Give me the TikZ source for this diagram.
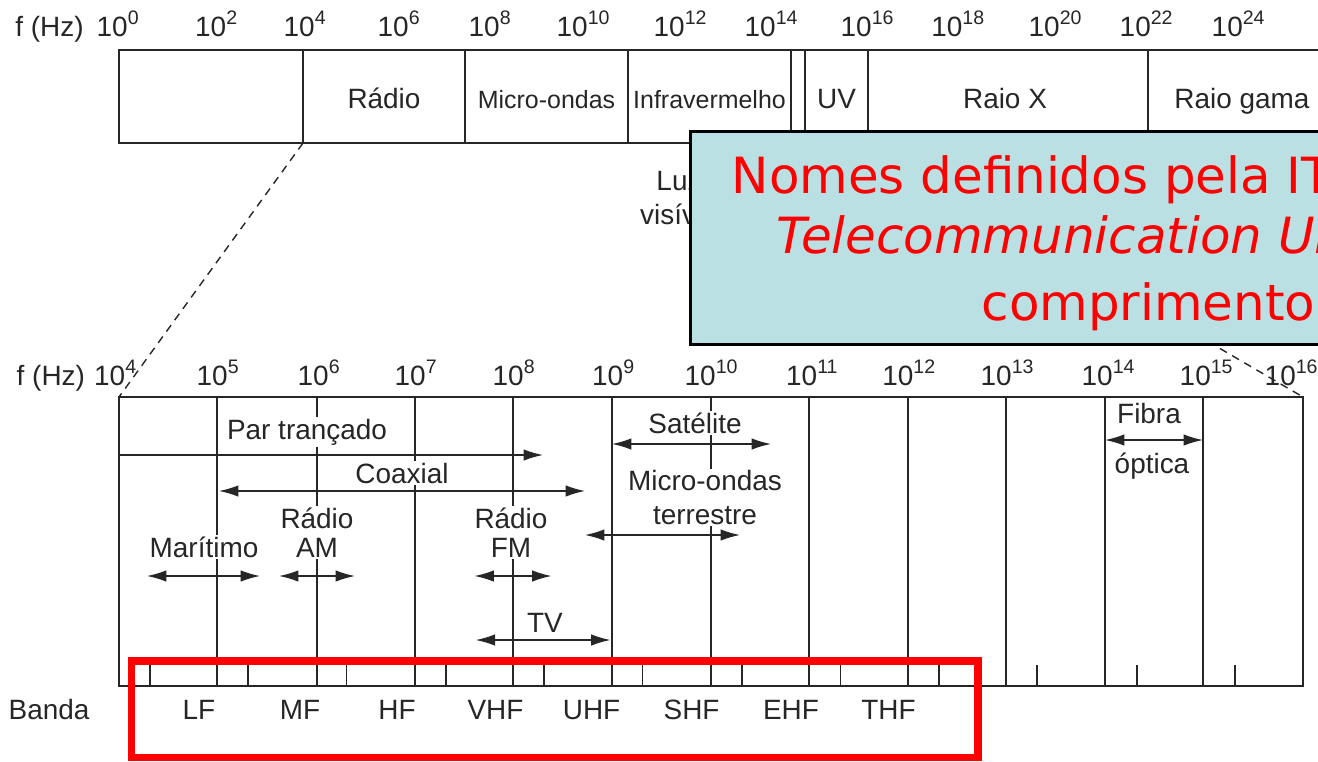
\documentclass[tikz,border=0pt]{standalone}
\usepackage{fontspec}
\setmainfont{Liberation Sans}
\newfontfamily\notefont{DejaVu Sans}
\usetikzlibrary{arrows.meta}
\tikzset{>={Latex[length=11pt,width=6.5pt]}}
\definecolor{ink}{gray}{0.15}
\definecolor{notebg}{RGB}{186,224,227}
\definecolor{notered}{RGB}{255,0,0}
\newcommand{\lblsize}{\fontsize{15.9}{16.5}\selectfont}
\tikzset{lbl/.style={inner sep=0pt, text=ink, font=\lblsize}}
\tikzset{gap/.style={lbl, fill=white, inner sep=1pt, align=center}}
\tikzset{notetext/.style={inner sep=0pt, text=notered, font=\notefont\fontsize{28.4}{30}\selectfont}}

\begin{document}
\begin{tikzpicture}[x=0.02cm, y=-0.02cm, line width=0.8pt, color=ink]
		\useasboundingbox (0,0) rectangle (1318,761);
		\clip (0,0) rectangle (1318,761);

		% Top bar
		\draw (1340,50) -- (119,50) -- (119,143) -- (1340,143);
		\foreach \x in {303,465,628,791,805,868,1148}
			\draw (\x,50) -- (\x,143);
		\node[lbl, anchor=base west] (tf) at (14.7,36) {f (Hz)};
		\foreach \x/\e in {96/0,194.5/2,283/4,377/6,468/8,556/10,653/12,744/14,840/16,930.6/18,1028/20,1119/22,1211/24}
			\node[lbl, anchor=base west] (t\e) at (\x,36) {10\textsuperscript{\e}};
		\node[lbl, anchor=base] (radio) at (384,108) {Rádio};
		\node[lbl, anchor=base, font=\fontsize{14.2}{17}\selectfont] (micro) at (546.5,108) {Micro-ondas};
		\node[lbl, anchor=base, font=\fontsize{14.2}{17}\selectfont] (infra) at (709.5,108) {Infravermelho};
		\node[lbl, anchor=base] (uv) at (836.5,108) {UV};
		\node[lbl, anchor=base] (raiox) at (1005,108) {Raio X};
		\node[lbl, anchor=base] (gama) at (1242,108) {Raio gama};
		\node[lbl, anchor=base, align=center] (luz) at (679,224) {Luz\\[2.5pt]visível};

		% Zoom
		\coordinate (zl) at (303,143);
		\coordinate (zr) at (868,143);
		\coordinate (sl) at (119,397);
		\coordinate (sr) at (1303,397);
		\draw[dash pattern=on 4.5pt off 3.5pt] (zl) -- (sl);
		\draw[dash pattern=on 4.5pt off 3.5pt] (zr) -- (sr);

		% Scale
		\draw (sl) rectangle (1303,686);
		\foreach \x in {217,317,415,513,612,711,809,908,1006,1105,1203}
			\draw (\x,397) -- (\x,686);
		\foreach \x in {150,248,346.5,446,544,642.6,742,840.5,939,1037,1137,1235}
			\draw (\x,665) -- (\x,686);
		\node[lbl, anchor=base west] (bf) at (16,385) {f (Hz)};
		\foreach \x/\e in {93.5/4,196/5,297/6,394/7,492/8,591.5/9,684/10,785.5/11,881.7/12,980/13,1081/14,1179/15,1264/16}
			\node[lbl, anchor=base west] (b\e) at (\x,385) {10\textsuperscript{\e}};

		% Media
		\node[gap, anchor=base] (par) at (307,439) {Par trançado};
		\node[gap, anchor=base] (coax) at (402,483) {Coaxial};
		\node[gap, anchor=base] (sat) at (695,433) {Satélite};
		\node[gap, anchor=base] (mot) at (705,524) {Micro-ondas\\[2.5pt]terrestre};
		\node[gap, anchor=base] (fibra) at (1149,423) {Fibra};
		\node[gap, anchor=base] (optica) at (1152,473) {óptica};
		\node[gap, anchor=base] (marit) at (204,557) {Marítimo};
		\node[gap, anchor=base] (am) at (317,557) {Rádio\\AM};
		\node[gap, anchor=base] (fm) at (511,557) {Rádio\\FM};
		\node[gap, anchor=base] (tv) at (545,632) {TV};
		\coordinate (parL) at (119,455);
		\coordinate (parR) at (543,455);
		\draw[->] (parL) -- (parR);
		\foreach \n/\xa/\xb/\y in {coax/219/585/491,sat/612/771/444,mot/585/740/535,fib/1105/1203/440,mar/147/260/576,am/279/355/576,fm/474.5/551.5/576,tv/475.7/610.5/640}{
			\coordinate (\n L) at (\xa,\y);
			\coordinate (\n R) at (\xb,\y);
			\draw[<->] (\n L) -- (\n R);
		}

		% Bands
		\node[lbl, anchor=base west] (banda) at (8,719) {Banda};
		\foreach \x/\b in {199/LF,300/MF,397/HF,495.5/VHF,591.6/UHF,691.6/SHF,791/EHF,888.5/THF}
			\node[lbl, anchor=base] (\b) at (\x,719) {\b};
		\draw[notered, line width=4pt] (131.5,661) rectangle (978,757.5);

		% Note
		\draw[fill=notebg, draw=black, line width=1.2pt] (690.5,131.5) rectangle (1345,344.5);
		\node[notetext, anchor=base west] (n1) at (731,193) {Nomes definidos pela ITU};
		\node[notetext, anchor=base west, font=\notefont\itshape\fontsize{28.4}{30}\selectfont] (n2) at (776,253) {Telecommunication Union};
		\node[notetext, anchor=base west] (n3) at (981,320) {comprimento de};
	\end{tikzpicture}
\end{document}
